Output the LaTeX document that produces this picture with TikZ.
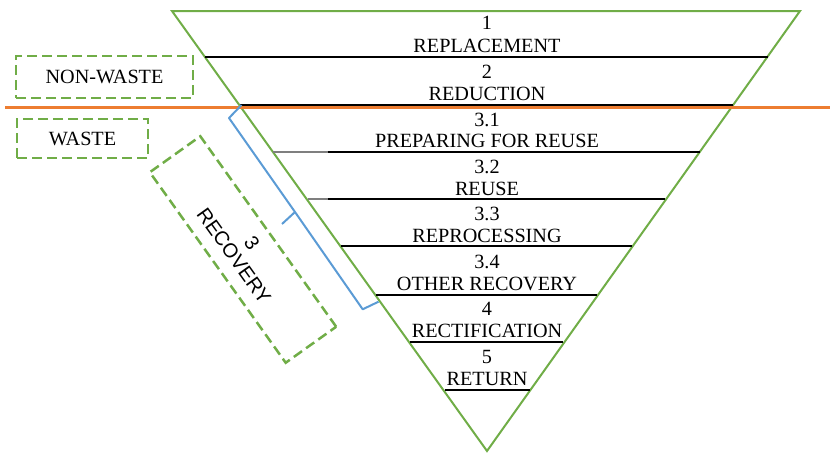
\documentclass[tikz,border=0pt]{standalone}
\usepackage{fontspec}
\setmainfont{Liberation Serif}
\newfontfamily\arialf{Liberation Sans}
\definecolor{tgreen}{HTML}{70AD47}
\definecolor{torange}{HTML}{ED7D31}
\definecolor{tblue}{HTML}{5B9BD5}
\definecolor{tgray}{HTML}{7F7F7F}
\begin{document}
\begin{tikzpicture}[x=1pt,y=-1pt,
  txt/.style={inner sep=0pt,anchor=base,font=\fontsize{20.2}{21}\selectfont},
  band/.style={black,line width=2pt},
  thinband/.style={tgray,line width=1.5pt},
  dbox/.style={draw=tgreen,line width=2.5pt,dash pattern=on 10pt off 5pt,inner sep=0pt,font=\fontsize{20.2}{21}\selectfont}]
\useasboundingbox (0,0) rectangle (830,453);
% triangle
\coordinate (tl) at (172,11);
\coordinate (tr) at (800,11);
\coordinate (ap) at (487,451);
\draw[tgreen,line width=2pt,line join=miter] (tl) -- (tr) -- (ap) -- cycle;
% band lines
\draw[band] (205,57) -- (768,57);
\draw[band] (240,105) -- (733,105);
\draw[thinband] (273,152) -- (328,152);
\draw[band] (328,152) -- (700,152);
\draw[thinband] (308,199) -- (328,199);
\draw[band] (328,199) -- (665,199);
\draw[band] (341,246) -- (632,246);
\draw[band] (376,295) -- (597,295);
\draw[band] (410,342) -- (563,342);
\draw[band] (445,390) -- (530,390);
% orange divider
\coordinate (ol) at (5,107.5);
\coordinate (or) at (830,107.5);
\draw[torange,line width=3pt] (ol) -- (or);
% labels
\node[txt] (n1) at (487,29) {1};
\node[txt] (l1) at (487,52.5) {REPLACEMENT};
\node[txt] (n2) at (487,78) {2};
\node[txt] (l2) at (487,100.5) {REDUCTION};
\node[txt] (n31) at (487,126) {3.1};
\node[txt] (l31) at (487,147.5) {PREPARING FOR REUSE};
\node[txt] (n32) at (487,173) {3.2};
\node[txt] (l32) at (487,195) {REUSE};
\node[txt] (n33) at (487,220) {3.3};
\node[txt] (l33) at (487,242) {REPROCESSING};
\node[txt] (n34) at (487,268.5) {3.4};
\node[txt] (l34) at (487,290.5) {OTHER RECOVERY};
\node[txt] (n4) at (487,315.5) {4};
\node[txt] (l4) at (487,337.5) {RECTIFICATION};
\node[txt] (n5) at (487,363.5) {5};
\node[txt] (l5) at (487,385.5) {RETURN};
% side boxes
\node[dbox,minimum width=177pt,minimum height=42pt] (nonwaste) at (104.5,77) {NON-WASTE};
\node[dbox,minimum width=131pt,minimum height=39pt] (waste) at (82.5,138.5) {WASTE};
\node[dbox,rotate=-54.5,minimum width=234pt,minimum height=62pt,align=center,
      font=\arialf\fontsize{20}{22}\selectfont] (recovery) at (243,249.5) {3\\RECOVERY};
% blue brace
\coordinate (b1) at (241.5,105);
\coordinate (b2) at (229,118);
\coordinate (bj) at (295,212);
\coordinate (bt) at (282,224);
\coordinate (b4) at (362.7,309.3);
\coordinate (b5) at (378.5,301.7);
\draw[tblue,line width=2pt,line join=round] (b1) -- (b2) -- (bj) -- (b4) -- (b5);
\draw[tblue,line width=2pt] (bj) -- (bt);
\end{tikzpicture}
\end{document}
